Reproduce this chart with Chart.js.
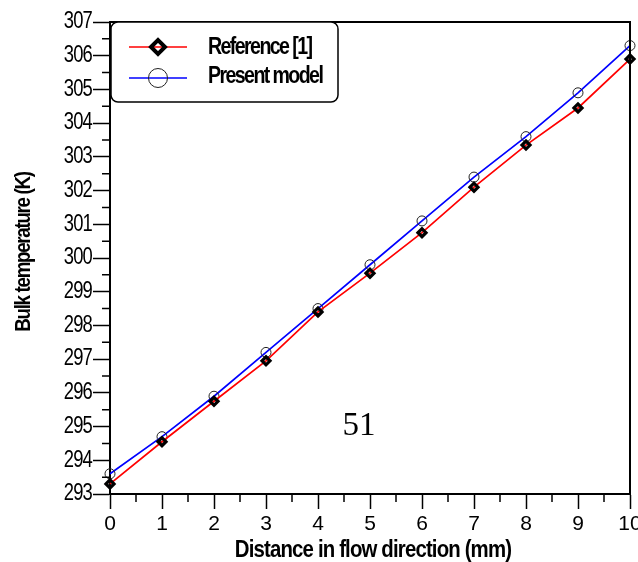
<!DOCTYPE html>
<html>
<head>
<meta charset="utf-8">
<script src="https://cdn.jsdelivr.net/npm/chart.js@4.4.1/dist/chart.umd.min.js"></script>
<style>
html,body{margin:0;padding:0;background:#fff;}
#wrap{position:relative;width:638px;height:562px;}
</style>
</head>
<body>
<div id="wrap"><canvas id="c" width="638" height="562"></canvas></div>
<script>
// ---- data ----
const distance = [0, 1, 2, 3, 4, 5, 6, 7, 8, 9, 10];
const referenceTemp = [293.3, 294.55, 295.75, 296.95, 298.4, 299.55, 300.75, 302.1, 303.35, 304.45, 305.9];
const presentTemp = [293.6, 294.7, 295.9, 297.2, 298.5, 299.8, 301.1, 302.4, 303.6, 304.9, 306.3];
const seriesLabels = ['Reference [1]', 'Present model'];
const xTitle = 'Distance in flow direction (mm)';
const yTitle = 'Bulk temperature (K)';
const pageNote = '51';
const xRange = [0, 10];
const yRange = [293, 307];

const sans = "'Liberation Sans', Arial, sans-serif";

function drawText(ctx, text, x, y, opt) {
  ctx.save();
  ctx.translate(x, y);
  if (opt.rotate) ctx.rotate(opt.rotate);
  ctx.scale(opt.hScale || 1, 1);
  ctx.font = opt.font;
  if ('letterSpacing' in ctx) ctx.letterSpacing = (opt.spacing || 0) + 'px';
  ctx.fillStyle = opt.color || '#000';
  ctx.textAlign = opt.align || 'left';
  ctx.textBaseline = opt.baseline || 'alphabetic';
  ctx.fillText(text, 0, 0);
  ctx.restore();
}

const decorPlugin = {
  id: 'decor',
  afterDraw(chart) {
    const ctx = chart.ctx;
    const a = chart.chartArea;
    const xs = chart.scales.x, ys = chart.scales.y;
    ctx.save();
    // frame top and right
    ctx.strokeStyle = '#000';
    ctx.lineWidth = 2;
    ctx.beginPath();
    ctx.moveTo(a.left, a.top);
    ctx.lineTo(a.right, a.top);
    ctx.lineTo(a.right, a.bottom);
    ctx.stroke();
    // minor ticks
    ctx.lineWidth = 1.5;
    ctx.beginPath();
    for (let v = xRange[0] + 0.5; v < xRange[1]; v += 1) {
      const px = xs.getPixelForValue(v);
      ctx.moveTo(px, a.bottom);
      ctx.lineTo(px, a.bottom + 8);
    }
    for (let v = yRange[0] + 0.5; v < yRange[1]; v += 1) {
      const py = ys.getPixelForValue(v);
      ctx.moveTo(a.left, py);
      ctx.lineTo(a.left - 8, py);
    }
    ctx.stroke();
    ctx.restore();

    // condensed y tick labels, positioned by the y scale
    ys.ticks.forEach(t => {
      drawText(ctx, String(t.value), a.left - 18, ys.getPixelForValue(t.value), {font: '23px ' + sans, align: 'right', baseline: 'middle', hScale: 0.8, spacing: -1});
    });

    // axis titles
    drawText(ctx, xTitle, (a.left + a.right) / 2 + 3, 557, {font: 'bold 24px ' + sans, align: 'center', spacing: -1, hScale: 0.85});
    drawText(ctx, yTitle, 30, (a.top + a.bottom) / 2 - 6, {font: 'bold 22px ' + sans, align: 'center', spacing: -1.5, hScale: 0.85, rotate: -Math.PI / 2});

    // legend
    const lx = 111, ly = 22, lw = 227, lh = 80;
    ctx.save();
    ctx.fillStyle = '#fff';
    ctx.strokeStyle = '#000';
    ctx.lineWidth = 1.5;
    ctx.beginPath();
    if (ctx.roundRect) ctx.roundRect(lx, ly, lw, lh, 7); else ctx.rect(lx, ly, lw, lh);
    ctx.fill();
    ctx.stroke();
    const rows = [47, 78];
    const bases = [54, 83];
    const legendRadius = [7, 9.5];
    chart.data.datasets.forEach((ds, i) => {
      const y = rows[i];
      ctx.strokeStyle = ds.borderColor;
      ctx.lineWidth = ds.borderWidth;
      ctx.beginPath();
      ctx.moveTo(129, y);
      ctx.lineTo(187, y);
      ctx.stroke();
      ctx.strokeStyle = ds.pointBorderColor;
      ctx.fillStyle = ds.pointBackgroundColor;
      ctx.lineWidth = i === 0 ? 4 : 1;
      Chart.helpers.drawPoint(ctx, {pointStyle: ds.pointStyle, radius: legendRadius[i], rotation: 0, borderWidth: ctx.lineWidth}, 158, y);
      drawText(ctx, ds.label, 208, bases[i], {font: 'bold 24.5px ' + sans, spacing: -2, hScale: 0.8});
    });
    ctx.restore();

    // page note
    drawText(ctx, pageNote, 359, 435, {font: "33px 'Liberation Serif', 'Times New Roman', serif", align: 'center'});
  }
};

new Chart(document.getElementById('c'), {
  type: 'line',
  data: {
    datasets: [
      {
        label: seriesLabels[0],
        data: distance.map((d, i) => ({x: d, y: referenceTemp[i]})),
        borderColor: '#ff0000',
        borderWidth: 1.7,
        pointStyle: 'rectRot',
        pointRadius: 4,
        pointBorderWidth: 3.2,
        pointBorderColor: '#000',
        pointBackgroundColor: 'rgba(0,0,0,0)',
        clip: false,
        order: 1
      },
      {
        label: seriesLabels[1],
        data: distance.map((d, i) => ({x: d, y: presentTemp[i]})),
        borderColor: '#0000ff',
        borderWidth: 1.7,
        pointStyle: 'circle',
        pointRadius: 5,
        pointBorderWidth: 1,
        pointBorderColor: '#222',
        pointBackgroundColor: 'rgba(0,0,0,0)',
        clip: false,
        order: 2
      }
    ]
  },
  options: {
    responsive: false,
    animation: false,
    devicePixelRatio: 1,
    layout: {padding: {left: 0, right: 8, top: 22, bottom: 0}},
    plugins: {legend: {display: false}, tooltip: {enabled: false}},
    elements: {line: {tension: 0}},
    scales: {
      x: {
        type: 'linear',
        min: xRange[0], max: xRange[1],
        border: {color: '#000', width: 2},
        grid: {drawOnChartArea: false, drawTicks: true, tickLength: 15, tickColor: '#000', tickWidth: 1.5},
        ticks: {stepSize: 1, color: '#000', padding: 3, maxRotation: 0, font: {family: sans, size: 21}},
        afterFit(s) { s.height = 68; s.paddingLeft = 0; s.paddingRight = 0; }
      },
      y: {
        type: 'linear',
        min: yRange[0], max: yRange[1],
        border: {color: '#000', width: 2},
        grid: {drawOnChartArea: false, drawTicks: true, tickLength: 17, tickColor: '#000', tickWidth: 1.5},
        ticks: {stepSize: 1, color: 'rgba(0,0,0,0)', padding: 2, font: {family: sans, size: 22}},
        afterFit(s) { s.width = 110; s.paddingTop = 0; s.paddingBottom = 0; }
      }
    }
  },
  plugins: [decorPlugin]
});
</script>
</body>
</html>
